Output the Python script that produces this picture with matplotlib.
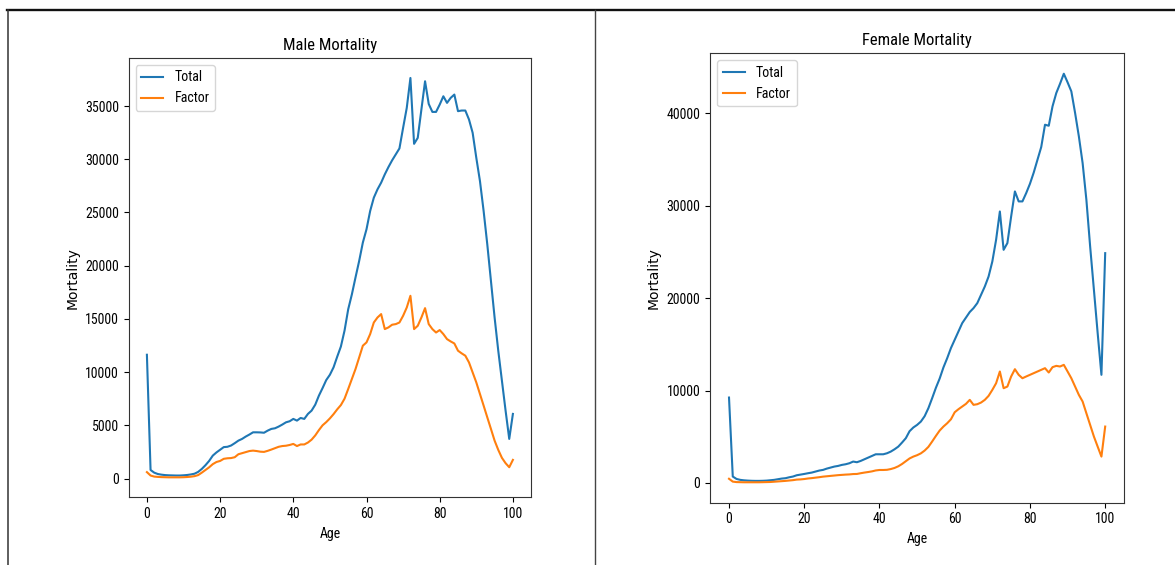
import matplotlib
matplotlib.use("Agg")
import matplotlib.pyplot as plt
from matplotlib import font_manager
from matplotlib.lines import Line2D
import numpy as np

# ---------------- data ----------------
ages = list(range(0, 101))

male_total = [11630, 800, 550, 420, 360, 320, 300, 290, 280, 280,
              300, 330, 380, 450, 620, 900, 1250, 1650, 2150, 2450,
              2700, 2950, 2980, 3100, 3320, 3560, 3720, 3940, 4130, 4340,
              4340, 4330, 4300, 4500, 4660, 4720, 4880, 5070, 5280, 5380,
              5600, 5440, 5690, 5600, 6070, 6380, 6940, 7790, 8500, 9250,
              9750, 10450, 11450, 12400, 13900, 15900, 17300, 18900, 20450, 22170,
              23420, 25140, 26390, 27170, 27800, 28580, 29270, 29900, 30460, 31020,
              32950, 34830, 37640, 31450, 32010, 34680, 37330, 35200, 34450, 34450,
              35140, 35920, 35300, 35770, 36080, 34520, 34580, 34580, 33740, 32490,
              30140, 27950, 25140, 22010, 18570, 15130, 12010, 9190, 6380, 3720,
              6070]

male_factor = [600, 280, 180, 150, 130, 120, 110, 110, 110, 110,
               120, 140, 170, 220, 320, 550, 800, 1050, 1350, 1550,
               1650, 1850, 1900, 1920, 2000, 2280, 2380, 2480, 2580, 2620,
               2580, 2520, 2500, 2600, 2720, 2850, 2980, 3050, 3080, 3150,
               3250, 3050, 3200, 3200, 3380, 3650, 4050, 4550, 5000, 5300,
               5650, 6050, 6500, 6900, 7500, 8410, 9350, 10290, 11380, 12480,
               12790, 13570, 14660, 15130, 15450, 14040, 14200, 14450, 14510, 14660,
               15290, 16070, 17170, 14040, 14350, 15130, 16010, 14510, 14040, 13720,
               13950, 13570, 13100, 12880, 12690, 12010, 11760, 11540, 10910, 9970,
               9030, 7940, 6850, 5750, 4660, 3560, 2690, 1940, 1440, 1060,
               1750]

female_total = [9240, 690, 430, 330, 280, 250, 230, 220, 220, 230,
                250, 290, 330, 400, 470, 510, 610, 690, 830, 900,
                970, 1050, 1120, 1230, 1340, 1410, 1550, 1660, 1770, 1840,
                1950, 2020, 2130, 2310, 2240, 2380, 2560, 2740, 2920, 3100,
                3100, 3100, 3210, 3390, 3640, 3930, 4370, 4840, 5600, 6000,
                6280, 6640, 7220, 8090, 9170, 10300, 11300, 12500, 13500, 14600,
                15500, 16400, 17300, 17900, 18500, 18920, 19460, 20360, 21260, 22340,
                23970, 26320, 29380, 25230, 25960, 28840, 31550, 30470, 30470, 31370,
                32380, 33590, 34980, 36360, 38770, 38660, 40760, 42200, 43210, 44290,
                43360, 42380, 40040, 37510, 34620, 30650, 25590, 20910, 16210, 11700,
                24870]

female_factor = [450, 140, 90, 80, 70, 70, 70, 70, 70, 80,
                 90, 100, 130, 160, 190, 220, 260, 300, 360, 380,
                 420, 480, 520, 570, 620, 680, 720, 760, 800, 840,
                 870, 900, 920, 960, 970, 1050, 1120, 1180, 1250, 1350,
                 1400, 1400, 1420, 1500, 1620, 1800, 2050, 2350, 2650, 2850,
                 3000, 3200, 3500, 3900, 4480, 5090, 5670, 6100, 6460, 6890,
                 7650, 7980, 8270, 8560, 8990, 8450, 8520, 8700, 8990, 9420,
                 10070, 10790, 12060, 10250, 10430, 11520, 12310, 11700, 11330, 11520,
                 11700, 11880, 12060, 12240, 12420, 11950, 12530, 12670, 12600, 12780,
                 12060, 11330, 10430, 9530, 8810, 7540, 6280, 5020, 3930, 2850,
                 6100]

series_labels = ["Total", "Factor"]
titles = ["Male Mortality", "Female Mortality"]
xlabel_text = "Age"
ylabel_text = "Mortality"

# ---------------- fonts ----------------
available = {f.name for f in font_manager.fontManager.ttflist}
narrow = None
for cand in ["Liberation Sans Narrow", "DejaVu Sans Condensed", "Roboto Condensed", "Liberation Sans"]:
    if cand in available:
        narrow = cand
        break
if narrow is None:
    narrow = "DejaVu Sans"
plt.rcParams['font.family'] = [narrow, 'DejaVu Sans']

W, H = 1175, 565
fig = plt.figure(figsize=(W / 100, H / 100), dpi=100)
fig.patch.set_facecolor("white")

def px_axes(left, top, right, bottom):
    return fig.add_axes([left / W, 1 - bottom / H, (right - left) / W, (bottom - top) / H])

ax_m = px_axes(128.6, 58, 531.2, 497.3)
ax_f = px_axes(710.2, 53.3, 1124.0, 502.7)

for ax, tot, fac, title in [(ax_m, male_total, male_factor, titles[0]),
                            (ax_f, female_total, female_factor, titles[1])]:
    ax.plot(ages, tot, color="#1f77b4", lw=1.5, label=series_labels[0])
    ax.plot(ages, fac, color="#ff7f0e", lw=1.5, label=series_labels[1])
    ax.set_title(title, fontsize=12)
    ax.set_xlabel(xlabel_text, fontsize=10)
    ax.set_ylabel(ylabel_text, fontsize=10, family="DejaVu Sans")
    ax.tick_params(labelsize=10)
    ax.set_xticks([0, 20, 40, 60, 80, 100])
    leg = ax.legend(loc="upper left", fontsize=10, handlelength=1.6)
    for sp in ax.spines.values():
        sp.set_color("#333333")

ax_m.set_yticks(np.arange(0, 35001, 5000))
ax_f.set_yticks(np.arange(0, 40001, 10000))

# frame lines of the screenshot table
fig.add_artist(Line2D([7 / W, 1.0], [1 - 10 / H, 1 - 10 / H], color="#111111", lw=1.7))
fig.add_artist(Line2D([7.5 / W, 7.5 / W], [0, 1 - 10 / H], color="#333333", lw=1.1))
fig.add_artist(Line2D([595.3 / W, 595.3 / W], [0, 1 - 10 / H], color="#444444", lw=1.0))

fig.savefig("out.png", dpi=100, facecolor="white")
